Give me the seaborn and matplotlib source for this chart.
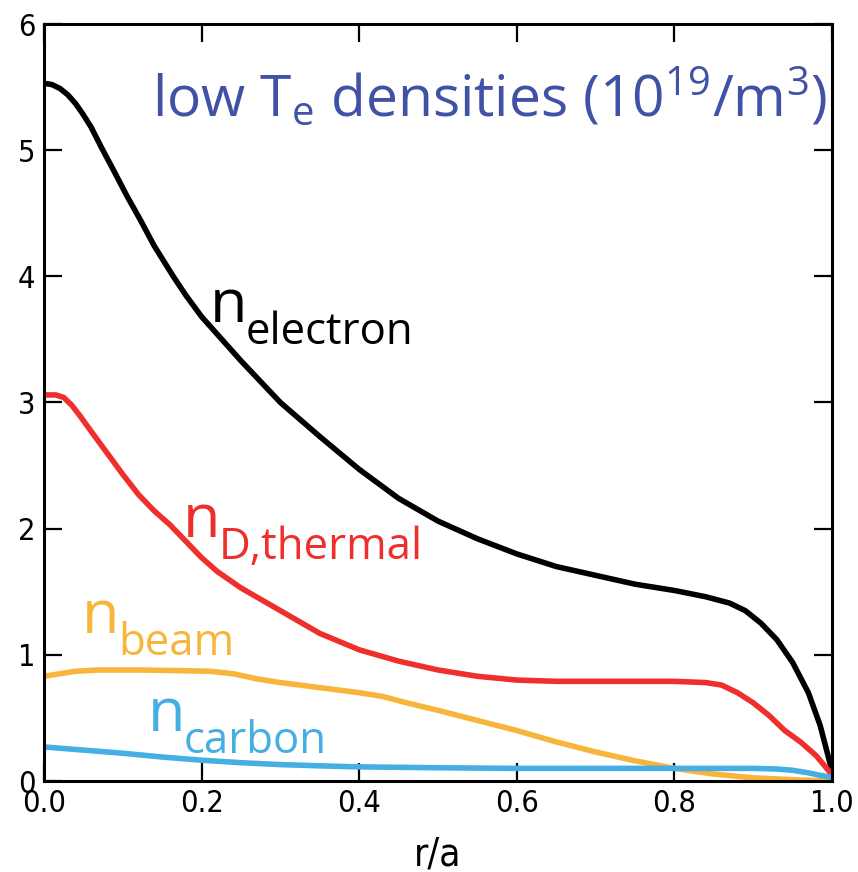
import matplotlib
matplotlib.use("Agg")
import matplotlib.pyplot as plt
import matplotlib.transforms as mtransforms
import seaborn as sns
import pandas as pd
import numpy as np

# ---- data ----
x_electron = [0.0, 0.01, 0.02, 0.03, 0.04, 0.05, 0.06, 0.073, 0.09, 0.105, 0.122, 0.14, 0.164,
              0.18, 0.20, 0.25, 0.30, 0.35, 0.40, 0.45, 0.50, 0.55, 0.60, 0.65, 0.70, 0.75,
              0.80, 0.84, 0.87, 0.89, 0.91, 0.93, 0.95, 0.97, 0.985, 1.0]
n_electron = [5.53, 5.52, 5.49, 5.44, 5.37, 5.28, 5.18, 5.02, 4.82, 4.64, 4.45, 4.24, 4.00,
              3.85, 3.68, 3.33, 3.00, 2.73, 2.47, 2.24, 2.06, 1.92, 1.80, 1.70, 1.63, 1.56,
              1.51, 1.46, 1.41, 1.35, 1.25, 1.12, 0.94, 0.70, 0.44, 0.08]

x_dthermal = [0.0, 0.015, 0.025, 0.035, 0.045, 0.06, 0.08, 0.10, 0.12, 0.14, 0.16, 0.18, 0.20,
              0.22, 0.25, 0.30, 0.35, 0.40, 0.45, 0.50, 0.55, 0.60, 0.65, 0.70, 0.75, 0.80,
              0.84, 0.86, 0.88, 0.90, 0.92, 0.94, 0.96, 0.98, 1.0]
n_dthermal = [3.06, 3.06, 3.04, 2.98, 2.90, 2.77, 2.60, 2.43, 2.27, 2.14, 2.03, 1.90, 1.77,
              1.66, 1.53, 1.35, 1.17, 1.04, 0.95, 0.88, 0.83, 0.80, 0.79, 0.79, 0.79, 0.79,
              0.78, 0.76, 0.70, 0.62, 0.52, 0.40, 0.31, 0.20, 0.05]

x_beam = [0.0, 0.02, 0.04, 0.07, 0.12, 0.17, 0.21, 0.24, 0.27, 0.30, 0.35, 0.40, 0.43, 0.46,
          0.50, 0.55, 0.60, 0.65, 0.70, 0.75, 0.80, 0.85, 0.90, 0.95, 1.0]
n_beam = [0.83, 0.85, 0.87, 0.88, 0.88, 0.875, 0.87, 0.85, 0.81, 0.78, 0.74, 0.70, 0.67, 0.62,
          0.56, 0.48, 0.40, 0.31, 0.23, 0.16, 0.10, 0.055, 0.025, 0.01, 0.0]

x_carbon = [0.0, 0.05, 0.10, 0.15, 0.20, 0.25, 0.30, 0.35, 0.40, 0.50, 0.60, 0.70, 0.80, 0.90,
            0.93, 0.95, 0.97, 0.985, 1.0]
n_carbon = [0.27, 0.245, 0.22, 0.19, 0.165, 0.145, 0.13, 0.12, 0.112, 0.105, 0.10, 0.10, 0.10,
            0.10, 0.095, 0.085, 0.065, 0.045, 0.03]

species = ["electron", "D,thermal", "beam", "carbon"]
colors = ["#000000", "#EE2F2B", "#F7B53C", "#45AEE3"]

x_ticks = [0.0, 0.2, 0.4, 0.6, 0.8, 1.0]
x_ticklabels = ["0.0", "0.2", "0.4", "0.6", "0.8", "1.0"]
y_ticks = [0, 1, 2, 3, 4, 5, 6]

title_text = r"low T$_{\mathrm{e}}$ densities (10$^{19}$/m$^{3}$)"
x_label = "r/a"

frames = []
for name, xs, ys in [("electron", x_electron, n_electron),
                     ("D,thermal", x_dthermal, n_dthermal),
                     ("beam", x_beam, n_beam),
                     ("carbon", x_carbon, n_carbon)]:
    frames.append(pd.DataFrame({"r/a": xs, "density": ys, "species": name}))
df = pd.concat(frames, ignore_index=True)

# ---- style ----
sns.set_theme(style="white")
plt.rcParams["font.family"] = ["Open Sans", "DejaVu Sans"]
plt.rcParams["mathtext.fontset"] = "custom"
plt.rcParams["mathtext.rm"] = "Open Sans"
plt.rcParams["mathtext.it"] = "Open Sans:italic"
plt.rcParams["mathtext.bf"] = "Open Sans:bold"

fig = plt.figure(figsize=(8.58, 8.72), dpi=100)
ax = fig.add_axes([44 / 858, 91 / 872, 788 / 858, 757 / 872])

sns.lineplot(data=df, x="r/a", y="density", hue="species", hue_order=species,
             palette=colors, estimator=None, sort=True, linewidth=4.0, legend=False, ax=ax)
for ln in ax.get_lines():
    ln.set_solid_joinstyle("round")
    ln.set_solid_capstyle("round")

ax.set_xlim(0, 1)
ax.set_ylim(0, 6)
ax.set_xticks(x_ticks)
ax.set_xticklabels(x_ticklabels)
ax.set_yticks(y_ticks)

tick_font = ["DejaVu Sans"]
for lab in ax.get_xticklabels() + ax.get_yticklabels():
    lab.set_fontfamily(tick_font)
    lab.set_fontstretch("condensed")
    lab.set_fontsize(22)
    lab.set_color("black")

ax.tick_params(axis="both", which="major", direction="in", length=13, width=1.6,
               top=True, right=True, bottom=True, left=True, color="black")
ax.tick_params(axis="x", pad=6)
ax.tick_params(axis="y", pad=6)

for sp in ax.spines.values():
    sp.set_color("black")
    sp.set_linewidth(2.2)

ax.set_xlabel(x_label, fontsize=28, fontfamily=tick_font, fontstretch="condensed",
              color="black", labelpad=12)
ax.set_ylabel("")

# title inside the axes
ax.text(0.137, 5.27, title_text, color="#4152A6", fontsize=41, ha="left", va="baseline")

# curve labels: big "n" plus a lowered subscript
label_pos = [(0.21, 3.64), (0.176, 1.93), (0.048, 1.17), (0.132, 0.40)]
for name, c, (lx, ly) in zip(species, colors, label_pos):
    ax.text(lx, ly, "n", color=c, fontsize=44, ha="left", va="baseline")
    tr = mtransforms.offset_copy(ax.transData, fig=fig, x=36, y=-22, units="dots")
    ax.text(lx, ly, name, color=c, fontsize=31.5, ha="left", va="baseline", transform=tr)

fig.savefig("out.png", dpi=100)
